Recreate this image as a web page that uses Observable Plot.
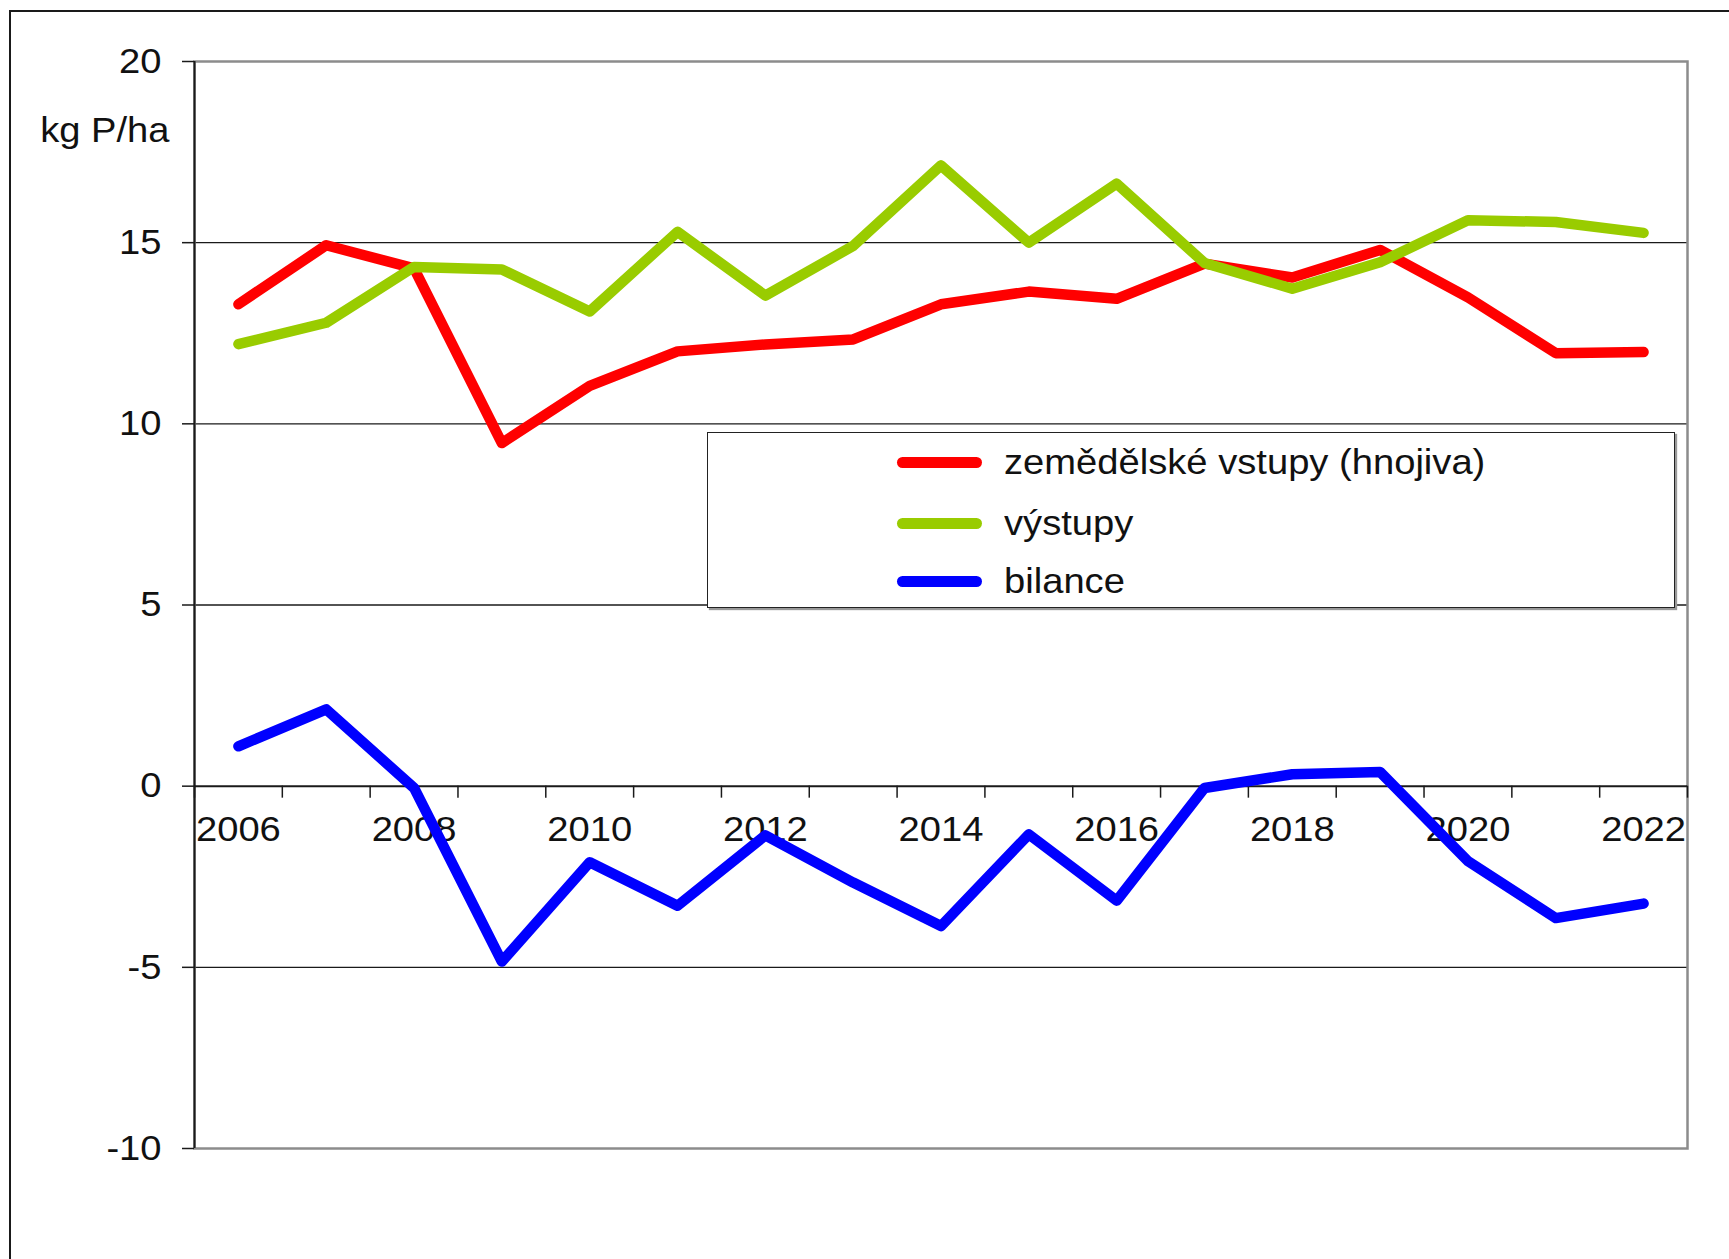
<!DOCTYPE html>
<html>
<head>
<meta charset="utf-8">
<script src="https://cdn.jsdelivr.net/npm/d3@7"></script>
<script src="https://cdn.jsdelivr.net/npm/@observablehq/plot@0.6"></script>
<style>
html, body { margin: 0; padding: 0; background: #fff; }
#wrap { position: relative; width: 1729px; height: 1259px; overflow: hidden; font-family: "Liberation Sans", Arial, sans-serif; }
#frame { position: absolute; left: 9px; top: 10px; right: -5px; bottom: -5px; border-left: 2px solid #1a1a1a; border-top: 2px solid #1a1a1a; }
#chart { position: absolute; left: 0; top: 0; }
#legend { position: absolute; left: 707px; top: 432px; width: 968px; height: 176px; background: #fff; border: 1.5px solid #222; box-shadow: 2px 2px 1px #999; box-sizing: border-box; }
.sw { position: absolute; left: 189px; width: 85px; height: 11px; border-radius: 5.5px; }
.lab { position: absolute; left: 296px; font-size: 35px; line-height: 40px; color: #111; white-space: nowrap; transform: scaleX(1.09); transform-origin: left center; }
</style>
</head>
<body>
<div id="wrap">
  <div id="frame"></div>
  <div id="chart"></div>
  <div id="legend"></div>
</div>
<script>
// ---- data ----
const years = [2006, 2007, 2008, 2009, 2010, 2011, 2012, 2013, 2014, 2015, 2016, 2017, 2018, 2019, 2020, 2021, 2022];
const vstupy  = [13.3, 14.93, 14.29, 9.47, 11.05, 12.0, 12.19, 12.33, 13.3, 13.65, 13.45, 14.42, 14.04, 14.8, 13.49, 11.95, 11.98];
const vystupy = [12.2, 12.79, 14.33, 14.26, 13.1, 15.3, 13.54, 14.91, 17.13, 15.0, 16.63, 14.44, 13.73, 14.46, 15.62, 15.57, 15.27];
const bilance = [1.1, 2.12, -0.05, -4.84, -2.1, -3.3, -1.36, -2.66, -3.86, -1.33, -3.16, -0.05, 0.33, 0.39, -2.07, -3.64, -3.24];
const seriesNames  = ["zemědělské vstupy (hnojiva)", "výstupy", "bilance"];
const seriesColors = ["#ff0000", "#99cc00", "#0000ff"];
const yTicks = [-10, -5, 0, 5, 10, 15, 20];
const gridValues = [-5, 5, 10, 15];
const xLabelYears = [2006, 2008, 2010, 2012, 2014, 2016, 2018, 2020, 2022];
const yUnit = "kg P/ha";

// ---- build table ----
const rows = [];
[vstupy, vystupy, bilance].forEach((vals, s) => {
  years.forEach((yr, i) => rows.push({series: seriesNames[s], year: yr, value: vals[i]}));
});
const xMin = years[0] - 0.5, xMax = years[years.length - 1] + 0.5;
const boundaries = d3.range(xMin, xMax + 0.01, 1);

const chart = Plot.plot({
  width: 1729,
  height: 1259,
  marginLeft: 194,
  marginRight: 42,
  marginTop: 61,
  marginBottom: 111,
  style: {fontFamily: "'Liberation Sans', Arial, sans-serif", fontSize: "35px", color: "#111", background: "transparent", overflow: "visible"},
  x: {type: "linear", domain: [xMin, xMax], axis: null},
  y: {domain: [-10, 20], axis: null},
  color: {domain: seriesNames, range: seriesColors},
  marks: [
    Plot.ruleY(gridValues, {y: d => d, stroke: "#1a1a1a", strokeWidth: 1.3}),
    Plot.frame({stroke: "#8c8c8c", strokeWidth: 2.5}),
    Plot.ruleX([xMin], {x: d => d, stroke: "#1a1a1a", strokeWidth: 2}),
    Plot.ruleY([0], {y: d => d, stroke: "#1a1a1a", strokeWidth: 2}),
    Plot.ruleX(boundaries, {x: d => d, y1: 0, y2: 0, insetBottom: -12, stroke: "#1a1a1a", strokeWidth: 1.5}),
    Plot.axisY({ticks: yTicks, tickSize: 12, tickPadding: 21, tickFormat: d => String(d), fontSize: 35, stroke: "#1a1a1a", strokeWidth: 1.5, label: null}),
    Plot.text(xLabelYears, {x: d => d, y: () => 0, dy: 44, text: d => String(d), fontSize: 35, fill: "#111"}),
    Plot.text([yUnit], {frameAnchor: "top-left", dx: -25, dy: 56, textAnchor: "end", text: d => d, fontSize: 35, fill: "#111"}),
    Plot.lineY(rows, {x: "year", y: "value", z: "series", stroke: "series", strokeWidth: 10.5, strokeLinecap: "round", strokeLinejoin: "round"})
  ]
});
// widen glyphs slightly (horizontal stretch about each text's anchor) to match the reference lettering
chart.querySelectorAll("text").forEach(t => {
  let x = parseFloat(t.getAttribute("x"));
  if (!isFinite(x)) x = 0;
  const tr = t.getAttribute("transform") || "";
  t.setAttribute("transform", `${tr} translate(${x},0) scale(1.09,1) translate(${-x},0)`.trim());
});
document.getElementById("chart").appendChild(chart);

// ---- legend ----
const legend = document.getElementById("legend");
const rowCenters = [29, 90, 148];
seriesNames.forEach((name, i) => {
  const sw = document.createElement("div");
  sw.className = "sw";
  sw.style.top = (rowCenters[i] - 5.5) + "px";
  sw.style.background = seriesColors[i];
  legend.appendChild(sw);
  const lab = document.createElement("div");
  lab.className = "lab";
  lab.style.top = (rowCenters[i] - 20) + "px";
  lab.textContent = name;
  legend.appendChild(lab);
});
</script>
</body>
</html>
